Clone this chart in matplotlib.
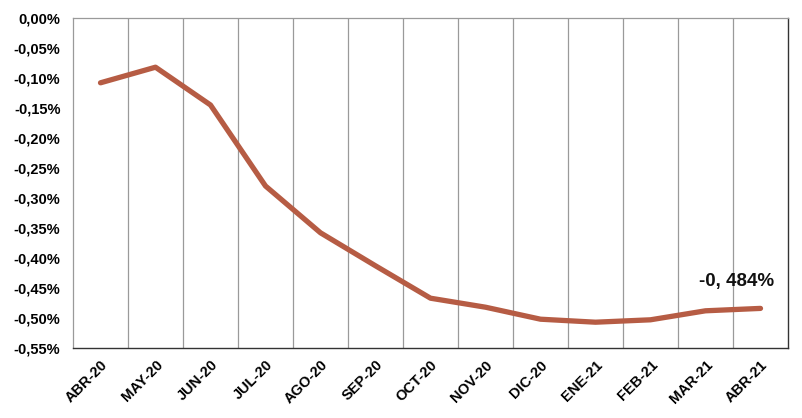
import matplotlib
matplotlib.use('Agg')
import matplotlib.pyplot as plt
from matplotlib.ticker import FuncFormatter, MultipleLocator, FixedLocator

# Datos (variación en %)
meses = ['ABR-20', 'MAY-20', 'JUN-20', 'JUL-20', 'AGO-20', 'SEP-20', 'OCT-20',
         'NOV-20', 'DIC-20', 'ENE-21', 'FEB-21', 'MAR-21', 'ABR-21']
valores = [-0.108, -0.082, -0.145, -0.280, -0.358, -0.413, -0.467,
           -0.482, -0.502, -0.507, -0.503, -0.488, -0.484]
etiqueta_final = '-0, 484%'

plt.rcParams['font.family'] = ['Liberation Sans', 'DejaVu Sans']

fig = plt.figure(figsize=(8.03, 4.18), dpi=100)
ax = fig.add_axes([73 / 803, 1 - 348 / 418, 715 / 803, 330 / 418])

x = list(range(len(meses)))
ax.plot(x, valores, color='#B65C44', linewidth=3.8, solid_capstyle='round',
        solid_joinstyle='round', zorder=3)

ax.set_xlim(-0.5, len(meses) - 0.5)
ax.set_ylim(-0.55, 0.0)

# Líneas verticales entre categorías
ax.xaxis.set_minor_locator(FixedLocator([i + 0.5 for i in range(len(meses) - 1)]))
ax.grid(True, which='minor', axis='x', color='#9a9a9a', linewidth=0.9)
ax.set_xticks(x)
ax.set_xticklabels(meses, rotation=45, ha='right', rotation_mode='anchor',
                   fontsize=10.5, fontweight='bold')
ax.tick_params(axis='x', which='both', length=0, pad=7)

ax.yaxis.set_major_locator(MultipleLocator(0.05))
ax.yaxis.set_major_formatter(FuncFormatter(lambda v, p: f'{v:.2f}%'.replace('.', ',').replace('-0,00', '0,00')))
ax.tick_params(axis='y', length=0, pad=9, labelsize=10.5)
for t in ax.get_yticklabels():
    t.set_fontweight('bold')

for side in ['top', 'left']:
    ax.spines[side].set_color('#9a9a9a')
    ax.spines[side].set_linewidth(0.9)
for side in ['bottom', 'right']:
    ax.spines[side].set_color('#333333')
    ax.spines[side].set_linewidth(1.0)

ax.annotate(etiqueta_final, xy=(x[-1], valores[-1]), xytext=(-17, 13),
            textcoords='offset points', ha='center', va='bottom',
            fontsize=13.5, fontweight='bold', color='#111111')

fig.savefig('out.png', dpi=100)
